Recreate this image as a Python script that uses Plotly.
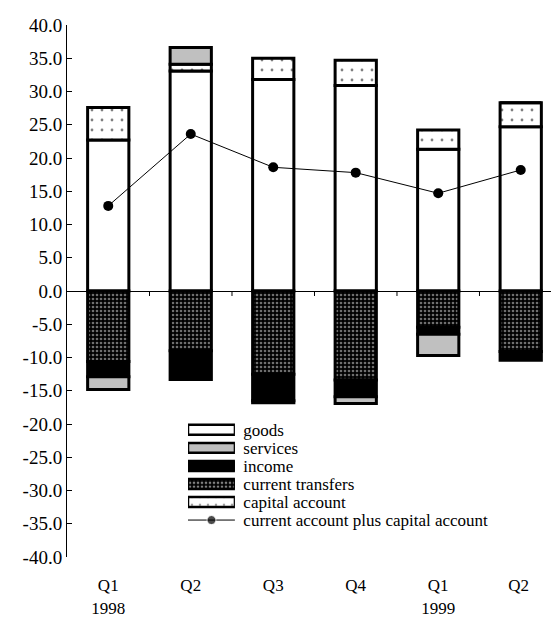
import plotly.graph_objects as go

# ---- data ----
categories = ["Q1<br>1998", "Q2", "Q3", "Q4", "Q1<br>1999", "Q2 "]
goods = [22.7, 33.1, 31.8, 30.9, 21.3, 24.7]
services = [-1.9, 2.5, -0.3, -1.0, -3.2, 0.0]
income = [-2.3, -4.3, -4.0, -2.5, -1.05, -1.3]
current_transfers = [-10.6, -9.0, -12.5, -13.4, -5.45, -9.1]
capital_account = [4.9, 1.0, 3.2, 3.8, 2.9, 3.6]
ca_plus_capital = [12.8, 23.6, 18.6, 17.8, 14.7, 18.2]

y_tick_values = [-40, -35, -30, -25, -20, -15, -10, -5, 0, 5, 10, 15, 20, 25, 30, 35, 40]
y_tick_labels = [f"{v:.1f}" for v in y_tick_values]

legend_labels = ["goods", "services", "income", "current transfers", "capital account",
                 "current account plus capital account"]

FONT = "Liberation Serif"
OUT = dict(color="black", width=3)

# styles per series
S_GOODS = dict(color="white", line=OUT)
S_SERV = dict(color="#c0c0c0", line=OUT)
S_INC = dict(color="black", line=OUT)
S_CT = dict(color="black", line=OUT,
            pattern=dict(shape=".", fgcolor="#dddddd", bgcolor="black", size=4, solidity=0.35))
S_CAP = dict(color="white", line=OUT,
             pattern=dict(shape=".", fgcolor="black", bgcolor="white", size=10, solidity=0.06))

fig = go.Figure()

# trace order chosen so stacking matches the reference
fig.add_trace(go.Bar(x=categories, y=goods, name="goods", marker=S_GOODS))
fig.add_trace(go.Bar(x=categories, y=capital_account, name="capital account", marker=S_CAP))
fig.add_trace(go.Bar(x=categories, y=current_transfers, name="current transfers", marker=S_CT))
fig.add_trace(go.Bar(x=categories, y=income, name="income", marker=S_INC))
fig.add_trace(go.Bar(x=categories, y=services, name="services", marker=S_SERV))
fig.add_trace(go.Scatter(x=categories, y=ca_plus_capital, name="current account plus capital account",
                         mode="lines+markers", line=dict(color="black", width=1),
                         marker=dict(color="black", size=10)))

# ---- legend drawn as a small key subplot (wide swatches like the reference) ----
LW = dict(color="black", width=2.5)
fig.add_trace(go.Bar(
    y=legend_labels[:5], x=[1] * 5, orientation="h", width=0.55,
    xaxis="x2", yaxis="y2", showlegend=False, hoverinfo="skip",
    marker=dict(
        color=["white", "#c0c0c0", "black", "black", "white"], line=LW,
        pattern=dict(shape=["", "", "", ".", "."],
                     fgcolor=["black", "black", "black", "#dddddd", "black"],
                     bgcolor=["white", "#c0c0c0", "black", "black", "white"],
                     size=[8, 8, 8, 4, 8], solidity=[0.1, 0.1, 0.1, 0.35, 0.08]),
    ),
))
fig.add_trace(go.Scatter(
    y=[legend_labels[5]] * 3, x=[0, 0.5, 1], mode="lines+markers",
    xaxis="x2", yaxis="y2", showlegend=False, hoverinfo="skip", cliponaxis=False,
    line=dict(color="black", width=1), marker=dict(color="black", size=[0, 9, 0]),
))

# small x-axis ticks on the zero line between categories
for i in range(len(categories) - 1):
    fig.add_shape(type="line", xref="x", yref="y", x0=i + 0.5, x1=i + 0.5, y0=0, y1=-0.75,
                  line=dict(color="black", width=1))

fig.update_layout(
    width=543, height=609,
    margin=dict(l=59, r=0, t=17, b=60, autoexpand=False),
    barmode="relative", bargap=0.5,
    paper_bgcolor="white", plot_bgcolor="rgba(0,0,0,0)",
    font=dict(family=FONT, size=18, color="black"),
    showlegend=False,
    xaxis=dict(range=[-0.5, 5.367], showline=False, showgrid=False, zeroline=False,
               automargin=False,
               ticks="outside", ticklen=13, tickcolor="rgba(0,0,0,0)",
               tickfont=dict(family=FONT, size=17)),
    yaxis=dict(range=[-40, 40], showline=True, linecolor="black", linewidth=1,
               automargin=False,
               showgrid=False, zeroline=True, zerolinecolor="black", zerolinewidth=1,
               ticks="inside", ticklen=5, tickcolor="black",
               tickvals=y_tick_values, ticktext=y_tick_labels,
               tickfont=dict(family=FONT, size=19)),
    xaxis2=dict(domain=[0.25, 0.347], anchor="y2", range=[0, 1], visible=False,
                automargin=False),
    yaxis2=dict(domain=[0.0485, 0.256], anchor="x2", type="category",
                categoryorder="array", categoryarray=legend_labels, autorange="reversed",
                tickmode="array", tickvals=legend_labels, ticktext=legend_labels,
                side="right", showline=False, showgrid=False, zeroline=False,
                automargin=False,
                ticks="outside", ticklen=4, tickcolor="rgba(0,0,0,0)",
                tickfont=dict(family=FONT, size=17)),
)

fig.write_html("out.html")
